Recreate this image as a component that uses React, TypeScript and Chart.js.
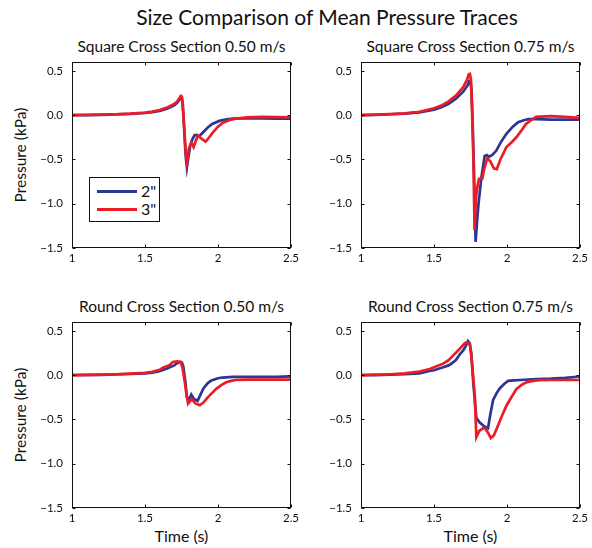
import React, { useEffect, useRef } from "react";
import { Chart, registerables } from "chart.js";

Chart.register(...registerables);

// ---------- axis / text data ----------
const xTicks = [1, 1.5, 2, 2.5];
const xTickLabels = ["1", "1.5", "2", "2.5"];
const yTicks = [-1.5, -1.0, -0.5, 0.0, 0.5];
const yTickLabels = ["\u22121.5", "\u22121.0", "\u22120.5", "0.0", "0.5"];
const seriesNames = ['2"', '3"'];
const mainTitle = "Size Comparison of Mean Pressure Traces";
const panelTitles = [
  "Square Cross Section 0.50 m/s",
  "Square Cross Section 0.75 m/s",
  "Round Cross Section 0.50 m/s",
  "Round Cross Section 0.75 m/s",
];
const yAxisTitle = "Pressure (kPa)";
const xAxisTitle = "Time (s)";

// ---------- Square 0.50 m/s ----------
const sq50Time2 = [1.0, 1.1, 1.2, 1.3, 1.4, 1.5, 1.55, 1.6, 1.65, 1.7, 1.72, 1.735, 1.745, 1.752, 1.758, 1.768, 1.778, 1.787, 1.795, 1.81, 1.825, 1.84, 1.855, 1.87, 1.9, 1.93, 1.96, 2.01, 2.05, 2.1, 2.15, 2.2, 2.3, 2.4, 2.5];
const sq50Press2 = [0, 0, 0.004, 0.008, 0.014, 0.024, 0.034, 0.048, 0.072, 0.11, 0.14, 0.175, 0.2, 0.19, 0.12, -0.15, -0.45, -0.59, -0.5, -0.34, -0.27, -0.225, -0.225, -0.24, -0.19, -0.14, -0.1, -0.065, -0.05, -0.04, -0.037, -0.036, -0.037, -0.04, -0.04];
const sq50Time3 = [1.0, 1.1, 1.2, 1.3, 1.4, 1.5, 1.55, 1.6, 1.65, 1.7, 1.72, 1.735, 1.745, 1.752, 1.758, 1.768, 1.778, 1.787, 1.8, 1.817, 1.833, 1.848, 1.862, 1.89, 1.915, 1.94, 1.965, 2.0, 2.03, 2.08, 2.12, 2.2, 2.3, 2.4, 2.5];
const sq50Press3 = [0, 0.002, 0.006, 0.01, 0.017, 0.028, 0.04, 0.058, 0.085, 0.125, 0.155, 0.19, 0.218, 0.21, 0.14, -0.12, -0.4, -0.53, -0.38, -0.31, -0.36, -0.29, -0.23, -0.27, -0.3, -0.25, -0.195, -0.13, -0.09, -0.055, -0.04, -0.025, -0.02, -0.022, -0.024];

// ---------- Square 0.75 m/s ----------
const sq75Time2 = [1.0, 1.1, 1.2, 1.3, 1.4, 1.5, 1.55, 1.6, 1.65, 1.7, 1.73, 1.742, 1.75, 1.757, 1.765, 1.775, 1.785, 1.795, 1.805, 1.825, 1.847, 1.862, 1.876, 1.9, 1.927, 1.96, 1.996, 2.04, 2.076, 2.12, 2.15, 2.2, 2.3, 2.4, 2.5];
const sq75Press2 = [0, 0.004, 0.01, 0.018, 0.032, 0.062, 0.088, 0.128, 0.185, 0.265, 0.335, 0.385, 0.38, 0.28, -0.1, -0.7, -1.43, -1.2, -1.0, -0.7, -0.46, -0.45, -0.47, -0.45, -0.4, -0.3, -0.21, -0.13, -0.08, -0.055, -0.045, -0.045, -0.05, -0.05, -0.05];
const sq75Time3 = [1.0, 1.1, 1.2, 1.3, 1.4, 1.5, 1.55, 1.6, 1.65, 1.7, 1.725, 1.738, 1.746, 1.753, 1.76, 1.77, 1.778, 1.784, 1.79, 1.798, 1.808, 1.83, 1.845, 1.864, 1.885, 1.91, 1.93, 1.955, 1.996, 2.03, 2.064, 2.1, 2.13, 2.17, 2.2, 2.3, 2.4, 2.5];
const sq75Press3 = [0, 0.005, 0.011, 0.02, 0.038, 0.078, 0.108, 0.155, 0.22, 0.315, 0.395, 0.46, 0.465, 0.4, 0.1, -0.5, -1.3, -1.05, -0.89, -0.8, -0.72, -0.72, -0.6, -0.49, -0.52, -0.6, -0.61, -0.5, -0.36, -0.31, -0.25, -0.17, -0.1, -0.05, -0.02, -0.01, -0.02, -0.03];

// ---------- Round 0.50 m/s ----------
const rd50Time2 = [1.0, 1.2, 1.3, 1.4, 1.5, 1.55, 1.6, 1.65, 1.7, 1.72, 1.74, 1.752, 1.762, 1.775, 1.787, 1.8, 1.817, 1.835, 1.86, 1.88, 1.9, 1.93, 1.955, 2.0, 2.03, 2.1, 2.2, 2.3, 2.4, 2.5];
const rd50Press2 = [0, 0.004, 0.008, 0.013, 0.02, 0.028, 0.045, 0.075, 0.11, 0.135, 0.15, 0.145, 0.1, -0.05, -0.25, -0.28, -0.22, -0.27, -0.29, -0.22, -0.15, -0.09, -0.06, -0.035, -0.027, -0.02, -0.02, -0.02, -0.02, -0.015];
const rd50Time3 = [1.0, 1.2, 1.3, 1.4, 1.5, 1.55, 1.6, 1.623, 1.67, 1.69, 1.72, 1.745, 1.757, 1.77, 1.783, 1.795, 1.82, 1.845, 1.875, 1.9, 1.93, 1.96, 1.988, 2.02, 2.056, 2.09, 2.12, 2.2, 2.3, 2.4, 2.5];
const rd50Press3 = [0, 0.005, 0.01, 0.018, 0.025, 0.038, 0.06, 0.085, 0.115, 0.148, 0.155, 0.148, 0.08, -0.05, -0.2, -0.32, -0.27, -0.32, -0.34, -0.31, -0.25, -0.2, -0.155, -0.115, -0.08, -0.065, -0.055, -0.05, -0.05, -0.05, -0.05];

// ---------- Round 0.75 m/s ----------
const rd75Time2 = [1.0, 1.1, 1.2, 1.3, 1.4, 1.47, 1.5, 1.563, 1.6, 1.62, 1.65, 1.677, 1.7, 1.718, 1.733, 1.745, 1.755, 1.768, 1.78, 1.79, 1.81, 1.845, 1.87, 1.885, 1.905, 1.93, 1.95, 1.98, 2.007, 2.05, 2.09, 2.2, 2.3, 2.4, 2.5];
const rd75Press2 = [0, 0, 0.005, 0.01, 0.02, 0.048, 0.055, 0.09, 0.11, 0.13, 0.17, 0.236, 0.28, 0.33, 0.385, 0.36, 0.25, -0.06, -0.3, -0.48, -0.53, -0.58, -0.6, -0.45, -0.28, -0.2, -0.15, -0.1, -0.065, -0.06, -0.055, -0.045, -0.04, -0.03, -0.015];
const rd75Time3 = [1.0, 1.1, 1.2, 1.3, 1.4, 1.47, 1.5, 1.563, 1.6, 1.63, 1.66, 1.688, 1.71, 1.727, 1.745, 1.757, 1.77, 1.78, 1.79, 1.81, 1.835, 1.85, 1.87, 1.889, 1.91, 1.928, 1.96, 1.996, 2.03, 2.064, 2.1, 2.13, 2.18, 2.22, 2.3, 2.4, 2.5];
const rd75Press3 = [0, 0.005, 0.01, 0.02, 0.04, 0.07, 0.088, 0.13, 0.17, 0.22, 0.27, 0.32, 0.36, 0.374, 0.35, 0.2, -0.05, -0.25, -0.7, -0.63, -0.6, -0.6, -0.65, -0.71, -0.68, -0.61, -0.48, -0.345, -0.25, -0.157, -0.11, -0.083, -0.065, -0.056, -0.055, -0.055, -0.055];

const panelSeries = [
  [[sq50Time2, sq50Press2], [sq50Time3, sq50Press3]],
  [[sq75Time2, sq75Press2], [sq75Time3, sq75Press3]],
  [[rd50Time2, rd50Press2], [rd50Time3, rd50Press3]],
  [[rd75Time2, rd75Press2], [rd75Time3, rd75Press3]],
];

// ---------- styling / layout ----------
const BLUE = "#2e3592";
const RED = "#ec1c27";
const FONT = "Lato, 'Open Sans', sans-serif";
const PLOT_W = 219;
const PLOT_H = 186;
const PAD_L = 60;
const PAD_T = 10;
const PAD_R = 15;
const PAD_B = 22;
const panelPos = [
  { left: 72, top: 62 },
  { left: 361, top: 62 },
  { left: 72, top: 322 },
  { left: 361, top: 322 },
];

const boxTicksPlugin = {
  id: "boxTicks",
  afterDraw(chart: any) {
    const { ctx, chartArea: a, scales } = chart;
    ctx.save();
    ctx.strokeStyle = "#111";
    ctx.lineWidth = 1;
    const L = Math.round(a.left) + 0.5;
    const R = Math.round(a.right) - 0.5;
    const T = Math.round(a.top) + 0.5;
    const B = Math.round(a.bottom) - 0.5;
    ctx.strokeRect(L, T, R - L, B - T);
    ctx.beginPath();
    xTicks.forEach((v) => {
      const x = Math.round(scales.x.getPixelForValue(v)) + 0.5;
      ctx.moveTo(x, B);
      ctx.lineTo(x, B - 3);
      ctx.moveTo(x, T);
      ctx.lineTo(x, T + 3);
    });
    yTicks.forEach((v) => {
      const y = Math.round(scales.y.getPixelForValue(v)) + 0.5;
      ctx.moveTo(L, y);
      ctx.lineTo(L + 3, y);
      ctx.moveTo(R, y);
      ctx.lineTo(R - 3, y);
    });
    ctx.stroke();
    ctx.restore();
  },
};

function Panel({ index }: { index: number }) {
  const ref = useRef<HTMLCanvasElement | null>(null);
  const pos = panelPos[index];
  const cw = PAD_L + PLOT_W + PAD_R;
  const ch = PAD_T + PLOT_H + PAD_B;

  useEffect(() => {
    if (!ref.current) return;
    const series = panelSeries[index];
    const colors = [BLUE, RED];
    const chart = new Chart(ref.current, {
      type: "line",
      data: {
        datasets: series.map(([t, p], si) => ({
          label: seriesNames[si],
          data: t.map((x, i) => ({ x, y: p[i] })),
          borderColor: colors[si],
          backgroundColor: colors[si],
          borderWidth: 2.7,
          pointRadius: 0,
          tension: 0,
          fill: false,
          order: si === 0 ? 1 : 0,
        })),
      },
      options: {
        responsive: false,
        animation: false,
        devicePixelRatio: 1,
        layout: { padding: { left: 0, top: PAD_T, right: PAD_R, bottom: 0 } },
        plugins: {
          legend: { display: false },
          tooltip: { enabled: false },
          title: { display: false },
        },
        scales: {
          x: {
            type: "linear",
            min: 1,
            max: 2.5,
            afterBuildTicks: (s: any) => {
              s.ticks = xTicks.map((v) => ({ value: v }));
            },
            afterFit: (s: any) => {
              s.height = PAD_B;
              s.paddingLeft = 0;
              s.paddingRight = 0;
              s.paddingTop = 0;
              s.paddingBottom = 0;
            },
            ticks: {
              autoSkip: false,
              maxRotation: 0,
              padding: 3,
              color: "#111",
              font: { family: FONT, size: 11.5 },
              callback: (v: any) => {
                const i = xTicks.indexOf(Number(v));
                return i >= 0 ? xTickLabels[i] : "";
              },
            },
            grid: { display: false, drawTicks: false },
            border: { display: false },
          },
          y: {
            type: "linear",
            min: -1.5,
            max: 0.6,
            afterBuildTicks: (s: any) => {
              s.ticks = yTicks.map((v) => ({ value: v }));
            },
            afterFit: (s: any) => {
              s.width = PAD_L;
              s.paddingLeft = 0;
              s.paddingRight = 0;
              s.paddingTop = 0;
              s.paddingBottom = 0;
            },
            ticks: {
              autoSkip: false,
              padding: 9,
              color: "#111",
              font: { family: FONT, size: 11.5 },
              callback: (v: any) => {
                const i = yTicks.findIndex((t) => Math.abs(t - Number(v)) < 1e-9);
                return i >= 0 ? yTickLabels[i] : "";
              },
            },
            grid: { display: false, drawTicks: false },
            border: { display: false },
          },
        },
      } as any,
      plugins: [boxTicksPlugin],
    });
    return () => chart.destroy();
  }, [index]);

  return (
    <canvas
      ref={ref}
      width={cw}
      height={ch}
      style={{
        position: "absolute",
        left: pos.left - PAD_L,
        top: pos.top - PAD_T,
        width: cw,
        height: ch,
      }}
    />
  );
}

export default function App() {
  const textBase: React.CSSProperties = {
    position: "absolute",
    fontFamily: FONT,
    color: "#111",
    whiteSpace: "nowrap",
    textAlign: "center",
  };
  return (
    <div
      style={{
        position: "absolute",
        left: 0,
        top: 0,
        width: 592,
        height: 548,
        background: "#fff",
        overflow: "hidden",
      }}
    >
      <div style={{ ...textBase, left: 327 - 250, width: 500, top: 5, fontSize: 21, lineHeight: "24px" }}>
        {mainTitle}
      </div>
      {panelPos.map((p, i) => (
        <div
          key={"t" + i}
          style={{
            ...textBase,
            left: p.left + PLOT_W / 2 - 150,
            width: 300,
            top: p.top - 25,
            fontSize: 15.5,
            lineHeight: "18px",
          }}
        >
          {panelTitles[i]}
        </div>
      ))}
      {[0, 2].map((i) => (
        <div
          key={"y" + i}
          style={{
            ...textBase,
            left: 20 - 60,
            width: 120,
            top: panelPos[i].top + PLOT_H / 2 - 9,
            fontSize: 15.5,
            lineHeight: "18px",
            transform: "rotate(-90deg)",
          }}
        >
          {yAxisTitle}
        </div>
      ))}
      {[2, 3].map((i) => (
        <div
          key={"x" + i}
          style={{
            ...textBase,
            left: panelPos[i].left + PLOT_W / 2 - 60,
            width: 120,
            top: 527,
            fontSize: 16,
            lineHeight: "18px",
          }}
        >
          {xAxisTitle}
        </div>
      ))}
      {panelPos.map((_, i) => (
        <Panel key={"p" + i} index={i} />
      ))}
      {/* legend in first panel */}
      <div
        style={{
          position: "absolute",
          left: 89,
          top: 177,
          width: 71,
          height: 45,
          border: "1px solid #111",
          background: "#fff",
          boxSizing: "border-box",
        }}
      >
        {seriesNames.map((n, i) => (
          <div key={n} style={{ position: "absolute", left: 7, top: 4 + i * 18, height: 18, width: 60 }}>
            <div
              style={{
                position: "absolute",
                left: 0,
                top: 8,
                width: 40,
                height: 3,
                background: i === 0 ? BLUE : RED,
              }}
            />
            <div
              style={{
                position: "absolute",
                left: 44,
                top: 0,
                fontFamily: FONT,
                fontSize: 16,
                lineHeight: "18px",
                color: "#111",
              }}
            >
              {n}
            </div>
          </div>
        ))}
      </div>
    </div>
  );
}
